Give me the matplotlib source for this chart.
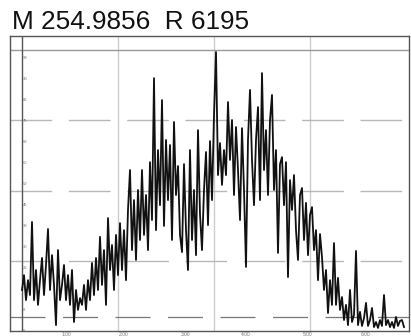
import numpy as np
import matplotlib.pyplot as plt

# relative intensity (%), one value every scan
intensity = [
    14.6, 19.9, 11.0, 18.1, 12.8, 38.8, 11.0, 21.7, 9.3, 18.1,
    26.0, 12.8, 23.5, 36.3, 14.6, 27.0, 16.4, 2.1, 28.8, 11.0,
    16.4, 23.5, 11.0, 19.9, 9.3, 21.7, 3.2, 14.6, 7.5, 11.7,
    9.3, 16.4, 7.5, 18.1, 11.0, 24.2, 12.8, 26.0, 14.6, 33.5,
    16.4, 28.8, 9.3, 40.2, 21.7, 30.6, 14.6, 34.2, 19.9, 38.4,
    21.7, 35.9, 18.1, 43.1, 57.3, 28.8, 46.6, 25.3, 50.2, 32.4,
    57.3, 34.2, 48.4, 28.8, 60.1, 39.5, 90.0, 35.9, 64.4, 44.8,
    82.2, 37.4, 68.0, 46.6, 66.2, 32.4, 74.4, 48.4, 58.7, 34.2,
    28.1, 59.4, 35.9, 21.7, 64.4, 32.4, 50.2, 27.0, 71.5, 41.6,
    28.8, 50.2, 63.7, 37.7, 67.6, 46.6, 76.9, 99.3, 55.5, 66.9,
    52.0, 64.4, 55.5, 81.5, 60.9, 75.1, 48.4, 72.6, 57.3, 39.5,
    72.2, 50.2, 22.8, 68.0, 85.8, 60.9, 44.8, 68.0, 79.7, 46.6,
    91.8, 57.3, 71.5, 48.4, 75.1, 84.0, 50.2, 64.4, 27.8, 59.4,
    61.9, 44.8, 60.1, 19.2, 53.7, 43.1, 55.5, 35.9, 25.3, 48.4,
    50.9, 32.4, 45.6, 27.0, 41.3, 44.1, 28.8, 35.9, 18.1, 34.5,
    26.3, 14.6, 21.7, 6.4, 18.1, 9.3, 31.3, 9.3, 18.9, 7.5,
    12.1, 3.9, 9.3, 2.1, 14.6, 3.2, 5.7, 28.5, 2.1, 6.8,
    1.8, 4.6, 10.0, 1.8, 3.9, 8.2, 1.4, 3.2, 1.1, 3.9,
    1.8, 12.8, 2.1, 3.9, 1.4, 3.2, 1.1, 5.0, 1.8, 3.6, 3.9, 1.4,
]
scans = np.arange(len(intensity))

title = "M 254.9856  R 6195"
x_grid = [48, 96, 144]
y_levels = [25, 50, 75]
low_level = 5
x_ticks = [22, 51, 82, 112, 143, 172]
x_ticklabels = ["1:00", "2:00", "3:00", "4:00", "5:00", "6:00"]
y_ticks = [7.5 * i for i in range(14)]

plt.rcParams["font.family"] = ["Liberation Sans", "DejaVu Sans"]

fig = plt.figure(figsize=(4.11, 3.36), dpi=100)
ax = fig.add_axes([10 / 411, 1 - 331 / 336, 399 / 411, 295 / 336])

ax.set_xlim(-6, 193.5)
ax.set_ylim(0, 105)

# grid: light vertical lines, broken horizontal ones
for gx in x_grid:
    ax.axvline(gx, color="#cccccc", lw=1.0, zorder=0)
for gy in y_levels:
    ax.axhline(gy, color="#b8b8b8", lw=1.0, dashes=(30, 12), zorder=0)
ax.axhline(low_level, color="#777777", lw=0.9, dashes=(28, 14), zorder=0)
ax.axhline(100, color="#9a9a9a", lw=1.0, zorder=0)
ax.axvline(0, color="#555555", lw=1.0, zorder=1)

ax.plot(scans, intensity, color="#111111", lw=1.3, zorder=3)

ax.set_xticks(x_ticks)
ax.set_xticklabels(x_ticklabels)
ax.set_yticks(y_ticks)
ax.set_yticklabels([f"{v:.0f}" for v in y_ticks])
ax.tick_params(axis="x", labelsize=3.5, length=0, pad=1, colors="#777777")
ax.tick_params(axis="y", labelsize=3, length=0, pad=-9, colors="#777777")
for lab in ax.get_yticklabels():
    lab.set_horizontalalignment("left")

for s in ax.spines.values():
    s.set_color("#555555")
    s.set_linewidth(1.0)

fig.text(12 / 411, 1 - 29 / 336, title, fontsize=18.8, color="#111111",
         ha="left", va="baseline")

fig.savefig("out.png", dpi=100)
